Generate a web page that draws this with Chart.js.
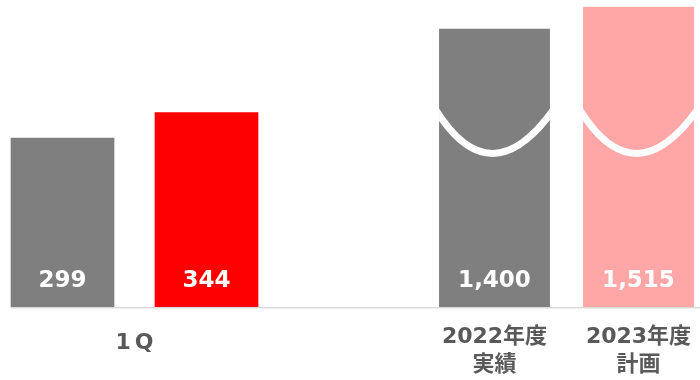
<!DOCTYPE html>
<html>
<head>
<meta charset="utf-8">
<script src="https://cdn.jsdelivr.net/npm/chart.js@4/dist/chart.umd.min.js"></script>
<style>
  html, body { margin: 0; padding: 0; background: #fff; }
</style>
</head>
<body>
<canvas id="chart" width="700" height="380"></canvas>
<script>
'use strict';
// categories (one empty slot between the quarter pair and the fiscal years)
const categories = ['2022年1Q', '2023年1Q', '', '2022年度実績', '2023年度計画'];
// quarter pair, drawn to scale
const quarterValues = [299, 344, null, null, null];
// fiscal year values printed on the bars
const annualValues = [null, null, null, 1400, 1515];
// heights the fiscal year bars are drawn at, below the axis break
const annualBarHeights = [null, null, null, 491, 530];
// labels under the axis: text lines and the bars they sit under
const groupLabels = [['1Q'], ['2022年度', '実績'], ['2023年度', '計画']];
const groupBars = [[0, 1], [3], [4]];

const GRAY = '#7f7f7f';
const RED = '#ff0000';
const PINK = '#ffa6a6';
const TEXT = '#595959';
const FONT = '"DejaVu Sans", "Noto Sans CJK JP", sans-serif';

// draws the baseline, the break wave, the value labels and the group labels
const decorations = {
  id: 'decorations',
  afterDatasetsDraw(chart) {
    let ctx = chart.ctx;
    let yScale = chart.scales.y;
    let qBars = chart.getDatasetMeta(0).data;
    let aBars = chart.getDatasetMeta(1).data;
    let base = yScale.getPixelForValue(0);
    ctx.save();

    // baseline
    ctx.strokeStyle = '#d9d9d9';
    ctx.lineWidth = 1.5;
    ctx.beginPath();
    ctx.moveTo(qBars[0].x - qBars[0].width / 2, base + 0.5);
    ctx.lineTo(chart.width, base + 0.5);
    ctx.stroke();

    // axis break wave on the fiscal year bars
    let top = yScale.getPixelForValue(342);
    let dip = yScale.getPixelForValue(274);
    ctx.strokeStyle = '#ffffff';
    ctx.lineWidth = 7;
    ctx.lineCap = 'round';
    for (let i = 0; i < aBars.length; i++) {
      if (annualValues[i] === null) continue;
      let b = aBars[i];
      let left = b.x - b.width / 2;
      let right = b.x + b.width / 2;
      ctx.save();
      ctx.beginPath();
      ctx.rect(left, b.y, b.width, b.base - b.y);
      ctx.clip();
      ctx.beginPath();
      ctx.moveTo(left - 3, top - 3);
      ctx.quadraticCurveTo(b.x - 4, 2 * dip - top + 6, right + 3, top - 3);
      ctx.stroke();
      ctx.restore();
    }

    // value labels
    ctx.fillStyle = '#ffffff';
    ctx.font = 'bold 23px ' + FONT;
    ctx.textAlign = 'center';
    ctx.textBaseline = 'middle';
    for (let i = 0; i < categories.length; i++) {
      let v = quarterValues[i] !== null ? quarterValues[i] : annualValues[i];
      if (v === null) continue;
      let b = quarterValues[i] !== null ? qBars[i] : aBars[i];
      ctx.fillText(v.toLocaleString('en-US'), b.x, base - 26);
    }

    // group labels under the axis
    ctx.fillStyle = TEXT;
    ctx.font = 'bold 22px ' + FONT;
    for (let g = 0; g < groupLabels.length; g++) {
      let xs = groupBars[g].map(function (i) {
        return quarterValues[i] !== null ? qBars[i].x : aBars[i].x;
      });
      let x = (Math.min(...xs) + Math.max(...xs)) / 2;
      let lines = groupLabels[g];
      let y = lines.length === 1 ? base + 36 : base + 30;
      ctx.letterSpacing = lines.length === 1 ? '4px' : '0px';
      for (let l = 0; l < lines.length; l++) {
        ctx.fillText(lines[l], x + (lines.length === 1 ? 2 : 0), y + l * 28);
      }
    }
    ctx.restore();
  }
};

new Chart(document.getElementById('chart'), {
  type: 'bar',
  data: {
    labels: categories,
    datasets: [{
      label: '1Q',
      data: quarterValues,
      backgroundColor: [GRAY, RED, GRAY, GRAY, GRAY],
      categoryPercentage: 1,
      barPercentage: 0.72,
      clip: false
    },
    {
      label: '年度',
      data: annualBarHeights,
      backgroundColor: [GRAY, GRAY, GRAY, GRAY, PINK],
      categoryPercentage: 1,
      barPercentage: 0.77,
      clip: false
    }]
  },
  options: {
    responsive: false,
    devicePixelRatio: 1,
    animation: false,
    grouped: false,
    layout: {
      padding: { left: 62.5, right: 61.5, top: 1, bottom: 72.7 }
    },
    plugins: {
      legend: { display: false },
      tooltip: { enabled: false }
    },
    scales: {
      x: { display: false, offset: false },
      y: { display: false, min: 0, max: 540 }
    }
  },
  plugins: [decorations]
});
</script>
</body>
</html>
